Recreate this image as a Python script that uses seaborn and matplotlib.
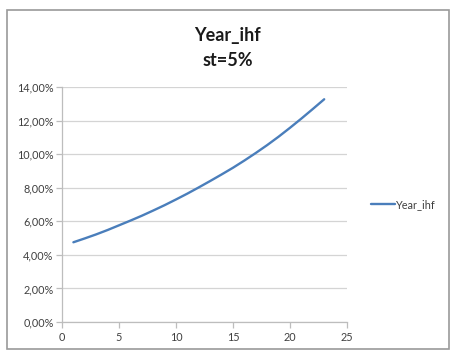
import matplotlib
matplotlib.use("Agg")
import matplotlib.pyplot as plt
from matplotlib.patches import Rectangle
from matplotlib.ticker import FuncFormatter, MultipleLocator
import pandas as pd
import seaborn as sns

# Yearly rate series (percent)
years = list(range(1, 24))
rates = [4.75, 4.98, 5.22, 5.48, 5.76, 6.04, 6.33, 6.64, 6.96, 7.30,
         7.65, 8.02, 8.40, 8.79, 9.19, 9.62, 10.07, 10.54, 11.04, 11.57,
         12.12, 12.69, 13.27]
series_name = "Year_ihf"
title_lines = ["Year_ihf", "st=5%"]

sns.set_style("white")
plt.rcParams["font.family"] = ["Lato", "DejaVu Sans"]

df = pd.DataFrame({"year": years, "rate": [r / 100 for r in rates], "series": series_name})

fig = plt.figure(figsize=(4.51, 3.51), dpi=100)
fig.patch.set_facecolor("white")

# chart frame
fig.add_artist(Rectangle((7 / 451, 1 - 349 / 351), 442 / 451, 339 / 351,
                         transform=fig.transFigure, fill=False,
                         edgecolor="#9a9a9a", linewidth=1.2))

ax = fig.add_axes([62 / 451, 1 - 322 / 351, 285 / 451, 235 / 351])
sns.lineplot(data=df, x="year", y="rate", hue="series", palette=["#4a7ebb"],
             linewidth=1.7, ax=ax, legend=True)

ax.set_xlim(0, 25)
ax.set_ylim(0, 0.14)
ax.xaxis.set_major_locator(MultipleLocator(5))
ax.yaxis.set_major_locator(MultipleLocator(0.02))
ax.yaxis.set_major_formatter(FuncFormatter(lambda v, p: f"{v * 100:.2f}%".replace(".", ",")))
ax.grid(axis="y", color="#d4d4d4", linewidth=0.9)
ax.set_axisbelow(True)
ax.set_xlabel("")
ax.set_ylabel("")

for side in ("top", "right"):
    ax.spines[side].set_visible(False)
for side in ("left", "bottom"):
    ax.spines[side].set_color("#bdbdbd")
    ax.spines[side].set_linewidth(0.9)

ax.tick_params(axis="both", which="major", labelsize=7.8, colors="#bdbdbd",
               labelcolor="#404040", length=4, width=0.9, direction="out",
               left=True, bottom=True)
ax.tick_params(axis="y", pad=2)
ax.tick_params(axis="x", pad=3)

leg = ax.legend(loc="center left", bbox_to_anchor=(1.05, 0.5), frameon=False,
                fontsize=7.8, handlelength=2.2, handletextpad=0.1)
for t in leg.get_texts():
    t.set_color("#404040")

fig.text(228 / 451, 1 - 36 / 351, title_lines[0], ha="center", va="center",
         fontsize=13, fontweight="bold", color="#1a1a1a")
fig.text(228 / 451, 1 - 60 / 351, title_lines[1], ha="center", va="center",
         fontsize=13, fontweight="bold", color="#1a1a1a")

fig.savefig("out.png", dpi=100, facecolor="white")
